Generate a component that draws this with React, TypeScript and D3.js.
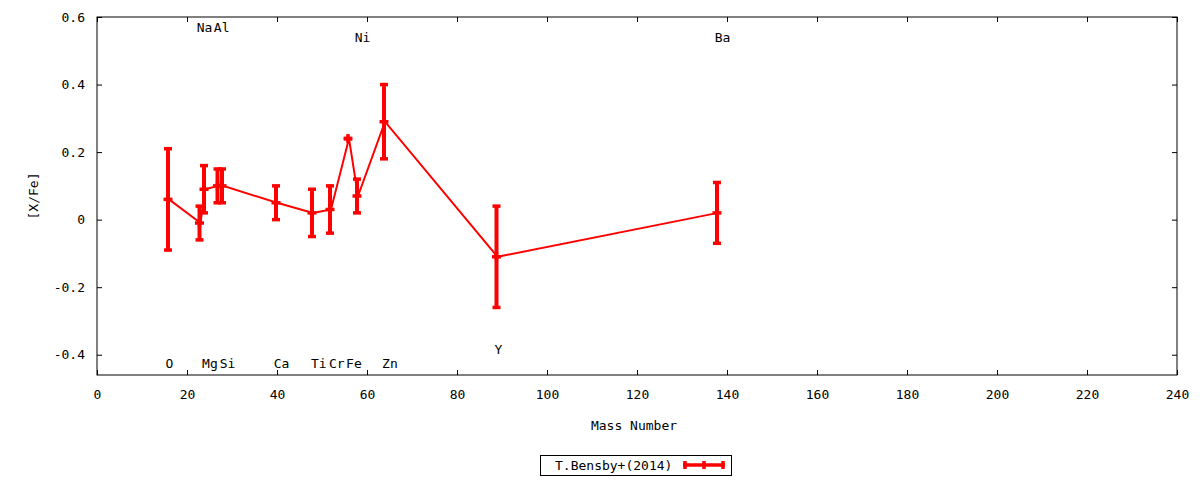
import React, { useRef, useEffect } from "react";
import * as d3 from "d3";

// abundance ratios [X/Fe] against mass number, T.Bensby+(2014)
const elements = ["O", "Na", "Mg", "Al", "Si", "Ca", "Ti", "Cr", "Fe", "Ni", "Zn", "Y", "Ba"];
const massNumbers = [16, 23, 24, 27, 28, 40, 48, 52, 56, 58, 64, 89, 138];
const xfeValues = [0.06, -0.01, 0.09, 0.1, 0.1, 0.05, 0.02, 0.03, 0.24, 0.07, 0.29, -0.11, 0.02];
const xfeLow = [-0.09, -0.06, 0.02, 0.05, 0.05, 0.0, -0.05, -0.04, 0.24, 0.02, 0.18, -0.26, -0.07];
const xfeHigh = [0.21, 0.04, 0.16, 0.15, 0.15, 0.1, 0.09, 0.1, 0.24, 0.12, 0.4, 0.04, 0.11];

// element name labels placed in the plot
const labelNames = ["Na", "Al", "Ni", "Ba", "O", "Mg", "Si", "Ca", "Ti", "Cr", "Fe", "Zn", "Y"];
const labelX = [23.9, 27.7, 59.0, 139.0, 16.1, 25.1, 29.0, 41.0, 49.3, 53.3, 57.1, 65.1, 89.2];
const labelY = [0.57, 0.57, 0.54, 0.54, -0.425, -0.425, -0.425, -0.425, -0.425, -0.425, -0.425, -0.425, -0.385];

const xTicks = [0, 20, 40, 60, 80, 100, 120, 140, 160, 180, 200, 220, 240];
const yTicks = [-0.4, -0.2, 0, 0.2, 0.4, 0.6];

const seriesName = "T.Bensby+(2014)";

const FONT = "DejaVu Sans Mono";
const RED = "#ff0000";

const width = 1200;
const height = 480;
const margin = { top: 17, right: 23, bottom: 105, left: 97 };

export default function App() {
    const axesRef = useRef<SVGGElement>(null);

    const x = d3
        .scaleLinear()
        .domain([0, 240])
        .range([margin.left, width - margin.right]);
    const y = d3
        .scaleLinear()
        .domain([-0.46, 0.6])
        .range([height - margin.bottom, margin.top]);

    useEffect(() => {
        if (!axesRef.current) return;
        const g = d3.select(axesRef.current);
        g.selectAll("*").remove();

        const fmt = (d: d3.NumberValue) => String(+(+d).toFixed(1));

        const bottom = g
            .append("g")
            .attr("transform", `translate(0,${height - margin.bottom})`)
            .call(
                d3.axisBottom(x).tickValues(xTicks).tickFormat(fmt)
                    .tickSizeInner(-5).tickSizeOuter(0).tickPadding(15)
            );
        const left = g
            .append("g")
            .attr("transform", `translate(${margin.left},0)`)
            .call(
                d3.axisLeft(y).tickValues(yTicks).tickFormat(fmt)
                    .tickSizeInner(-5).tickSizeOuter(0).tickPadding(12)
            );
        g.append("g")
            .attr("transform", `translate(0,${margin.top})`)
            .call(
                d3.axisTop(x).tickValues(xTicks).tickFormat(() => "")
                    .tickSizeInner(-5).tickSizeOuter(0)
            );
        g.append("g")
            .attr("transform", `translate(${width - margin.right},0)`)
            .call(
                d3.axisRight(y).tickValues(yTicks).tickFormat(() => "")
                    .tickSizeInner(-5).tickSizeOuter(0)
            );

        g.selectAll(".domain").remove();
        g.selectAll(".tick line").attr("stroke", "#000").attr("stroke-width", 1);
        [bottom, left].forEach((a) =>
            a.selectAll("text")
                .attr("font-family", FONT)
                .attr("font-size", 13)
                .attr("fill", "#000")
        );
    }, []);

    const line = d3
        .line<number>()
        .x((_, i) => x(massNumbers[i]))
        .y((d) => y(d));

    const legendY = 465;

    return (
        <div style={{ position: "fixed", left: 0, top: 0 }}>
            <svg width={width} height={height} style={{ display: "block", background: "#fff" }}>
                <rect x={0} y={0} width={width} height={height} fill="#fff" />
                <g ref={axesRef} />
                <rect
                    x={margin.left}
                    y={margin.top}
                    width={width - margin.left - margin.right}
                    height={height - margin.top - margin.bottom}
                    fill="none"
                    stroke="#000"
                    strokeWidth={1}
                />

                <g fontFamily={FONT} fontSize={13} fill="#000">
                    {labelNames.map((name, i) => (
                        <text
                            key={name}
                            x={x(labelX[i])}
                            y={y(labelY[i])}
                            textAnchor="middle"
                            dominantBaseline="central"
                        >
                            {name}
                        </text>
                    ))}
                    <text x={634} y={425} textAnchor="middle" dominantBaseline="central">
                        Mass Number
                    </text>
                    <text
                        transform="translate(33,196) rotate(-90)"
                        textAnchor="middle"
                        dominantBaseline="central"
                    >
                        [X/Fe]
                    </text>
                </g>

                <path d={line(xfeValues) || ""} fill="none" stroke={RED} strokeWidth={2} />

                <g stroke={RED}>
                    {elements.map((el, i) => {
                        const cx = x(massNumbers[i]) - 1;
                        const cy = y(xfeValues[i]);
                        return (
                            <g key={el}>
                                <line x1={cx} x2={cx} y1={y(xfeLow[i])} y2={y(xfeHigh[i])} strokeWidth={4} />
                                <line x1={cx - 4} x2={cx + 4} y1={y(xfeLow[i])} y2={y(xfeLow[i])} strokeWidth={3.5} />
                                <line x1={cx - 4} x2={cx + 4} y1={y(xfeHigh[i])} y2={y(xfeHigh[i])} strokeWidth={3.5} />
                                {/* "+" point marker */}
                                <line x1={cx - 4.5} x2={cx + 4.5} y1={cy} y2={cy} strokeWidth={3.5} />
                                <line x1={cx} x2={cx} y1={cy - 4.5} y2={cy + 4.5} strokeWidth={3.5} />
                            </g>
                        );
                    })}
                </g>

                <g>
                    <rect x={540.5} y={455.5} width={191} height={20} fill="none" stroke="#000" strokeWidth={1} />
                    <text
                        x={555}
                        y={legendY}
                        fontFamily={FONT}
                        fontSize={13}
                        dominantBaseline="central"
                    >
                        {seriesName}
                    </text>
                    <g stroke={RED}>
                        <line x1={683} x2={725} y1={legendY} y2={legendY} strokeWidth={3.5} />
                        <line x1={685} x2={685} y1={legendY - 4} y2={legendY + 4} strokeWidth={3.5} />
                        <line x1={723} x2={723} y1={legendY - 4} y2={legendY + 4} strokeWidth={3.5} />
                        <line x1={704} x2={704} y1={legendY - 4} y2={legendY + 4} strokeWidth={3.5} />
                    </g>
                </g>
            </svg>
        </div>
    );
}
